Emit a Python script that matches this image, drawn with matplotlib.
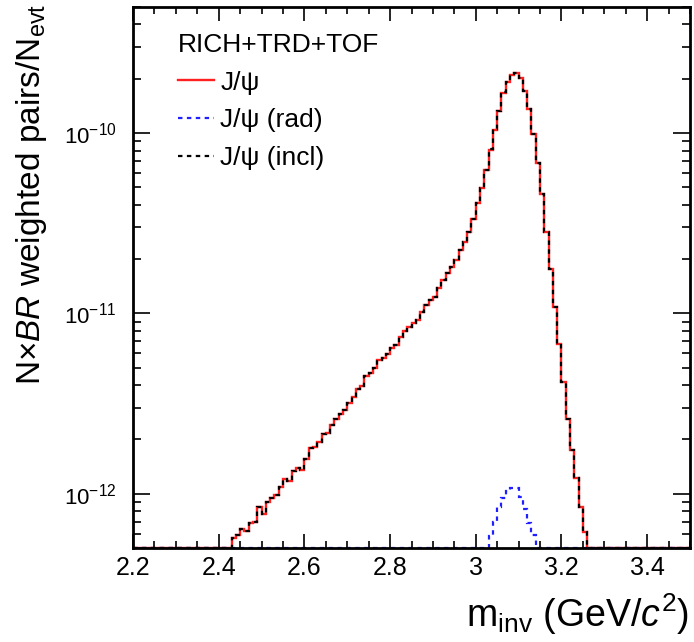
import numpy as np
import matplotlib.pyplot as plt
from matplotlib.ticker import (MultipleLocator, LogLocator, FixedLocator,
                               FuncFormatter, NullFormatter, LogFormatterSciNotation)

plt.rcParams['font.family'] = 'Liberation Sans'
plt.rcParams['mathtext.fontset'] = 'custom'
plt.rcParams['mathtext.rm'] = 'Liberation Sans'
plt.rcParams['mathtext.it'] = 'Liberation Sans:italic'

# binning of the invariant mass histograms (GeV/c^2)
m_lo, m_hi, bin_width = 2.2, 3.5, 0.01
y_min, y_max = 5e-13, 5e-10
y_decades = [1e-12, 1e-11, 1e-10]

# J/psi, values in units of 1e-12, first filled bin starts at 2.43
jpsi_start = 2.43
jpsi = [0.57, 0.59, 0.64, 0.62, 0.69, 0.70, 0.84, 0.77, 0.90, 0.95,
        0.98, 1.09, 1.20, 1.17, 1.34, 1.39, 1.36, 1.56, 1.80, 1.82,
        1.94, 2.15, 2.18, 2.41, 2.60, 2.78, 2.92, 3.18, 3.46, 3.80,
        3.97, 4.47, 4.66, 4.97, 5.52, 5.65, 5.97, 6.41, 6.69, 7.38,
        8.03, 8.39, 8.89, 9.20, 10.2, 11.1, 11.9, 12.4, 13.8, 15.3,
        16.8, 18.1, 19.8, 22.5, 24.9, 28.3, 33.4, 41.0, 49.6, 62.4,
        81.0, 104.0, 132.0, 167.0, 192.0, 210.0, 215.0, 202.0, 171.0, 136.0,
        98.7, 68.2, 45.9, 28.3, 17.6, 10.9, 6.78, 4.17, 2.60, 1.75,
        1.23, 0.84, 0.61]

# J/psi (rad)
rad_start = 3.03
rad = [0.58, 0.70, 0.84, 0.95, 1.04, 1.08, 1.07, 0.96, 0.82, 0.69, 0.59]

# J/psi (incl)
incl_start = 2.43
incl = [0.57, 0.59, 0.64, 0.62, 0.69, 0.70, 0.84, 0.77, 0.90, 0.95,
        0.98, 1.09, 1.20, 1.17, 1.34, 1.39, 1.36, 1.56, 1.80, 1.82,
        1.94, 2.15, 2.18, 2.41, 2.60, 2.78, 2.92, 3.18, 3.46, 3.80,
        3.97, 4.47, 4.66, 4.97, 5.52, 5.65, 5.97, 6.41, 6.69, 7.38,
        8.03, 8.39, 8.89, 9.20, 10.2, 11.1, 11.9, 12.4, 13.8, 15.3,
        16.8, 18.1, 19.8, 22.5, 24.9, 28.3, 33.4, 41.0, 49.6, 62.4,
        81.6, 104.7, 132.8, 168.0, 193.0, 211.1, 216.1, 203.0, 171.8, 136.7,
        99.3, 68.2, 45.9, 28.3, 17.6, 10.9, 6.78, 4.17, 2.60, 1.75,
        1.23, 0.84, 0.61]

n_bins = int(round((m_hi - m_lo) / bin_width))
edges = np.linspace(m_lo, m_hi, n_bins + 1)


def to_hist(start, vals):
    h = np.zeros(n_bins)
    i0 = int(round((start - m_lo) / bin_width))
    h[i0:i0 + len(vals)] = np.array(vals) * 1e-12
    # empty bins are drawn on the bottom of the frame, like ROOT does
    return np.maximum(h, y_min)


fig = plt.figure(figsize=(6.94, 6.42), dpi=100)
W, H = 694, 642
ax = fig.add_axes([133 / W, 1 - 548 / H, 557 / W, 541 / H])

ax.stairs(to_hist(jpsi_start, jpsi), edges, baseline=None,
          color='#ff2020', lw=1.7, label='J/ψ')
ax.stairs(to_hist(rad_start, rad), edges, baseline=None,
          color='#2020ff', lw=1.6, ls=(0, (2, 2)), label='J/ψ (rad)')
ax.stairs(to_hist(incl_start, incl), edges, baseline=None,
          color='black', lw=1.6, ls=(0, (2, 2)), label='J/ψ (incl)')

ax.set_yscale('log')
ax.set_xlim(m_lo, m_hi)
ax.set_ylim(y_min, y_max)

ax.xaxis.set_major_locator(MultipleLocator(0.2))
ax.xaxis.set_minor_locator(MultipleLocator(0.05))
ax.xaxis.set_major_formatter(FuncFormatter(lambda v, p: f"{v:g}"))
ax.yaxis.set_major_locator(FixedLocator(y_decades))
ax.yaxis.set_major_formatter(LogFormatterSciNotation())
ax.yaxis.set_minor_locator(LogLocator(base=10, subs=np.arange(2, 10)))
ax.yaxis.set_minor_formatter(NullFormatter())

ax.tick_params(which='both', direction='in', top=True, right=True, width=1.2)
ax.tick_params(axis='x', which='major', length=10, labelsize=18, pad=6)
ax.tick_params(axis='x', which='minor', length=5)
ax.tick_params(axis='y', which='major', length=12, labelsize=16, pad=12)
ax.tick_params(axis='y', which='minor', length=6)
for s in ax.spines.values():
    s.set_linewidth(2)

fig.text(0.045, 1 - 4 / H, 'N×$\\it{BR}$ weighted pairs/N$_{\\rm evt}$',
         rotation=90, ha='center', va='top', fontsize=24)
fig.text(689 / W, 15 / H, 'm$_{\\rm inv}$ (GeV/$\\it{c}^{2}$)',
         ha='right', va='baseline', fontsize=27)

leg = ax.legend(loc='upper left', bbox_to_anchor=(0.081, 0.952), frameon=False,
                title='RICH+TRD+TOF', alignment='left', fontsize=19,
                title_fontsize=19, handlelength=1.35, handletextpad=0.25,
                labelspacing=0.52, borderpad=0, borderaxespad=0)

fig.savefig('out.png', dpi=100)
